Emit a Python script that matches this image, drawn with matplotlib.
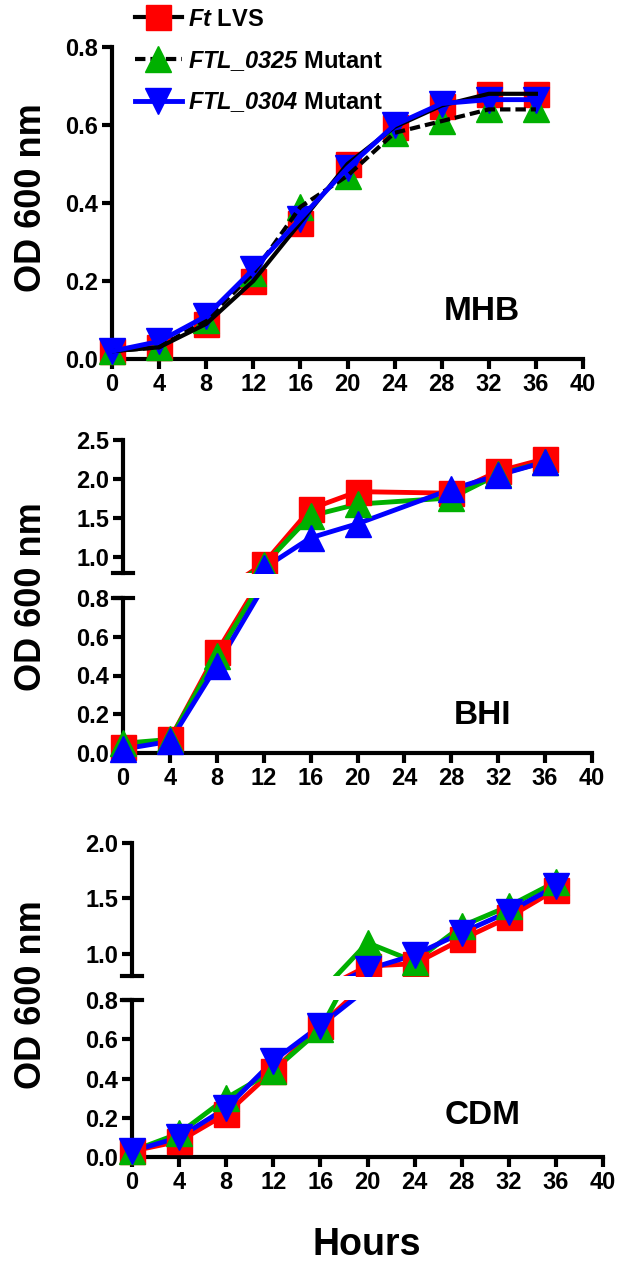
import matplotlib
matplotlib.use("Agg")
import matplotlib.pyplot as plt
from matplotlib.lines import Line2D

plt.rcParams['font.family'] = ['Liberation Sans', 'DejaVu Sans']
plt.rcParams['font.weight'] = 'bold'
plt.rcParams['mathtext.fontset'] = 'custom'
plt.rcParams['mathtext.it'] = 'Liberation Sans:italic:bold'
plt.rcParams['mathtext.rm'] = 'Liberation Sans:italic:bold'

# data
hours = [0, 4, 8, 12, 16, 20, 24, 28, 32, 36]
mhb_lvs = [0.02, 0.03, 0.09, 0.20, 0.35, 0.50, 0.595, 0.65, 0.68, 0.68]
mhb_0325 = [0.02, 0.03, 0.10, 0.22, 0.39, 0.47, 0.58, 0.61, 0.64, 0.64]
mhb_0304 = [0.02, 0.045, 0.11, 0.23, 0.36, 0.49, 0.60, 0.655, 0.665, 0.665]

bhi_hours = [0, 4, 8, 12, 16, 20, 28, 32, 36]
bhi_lvs = [0.03, 0.07, 0.52, 0.92, 1.62, 1.84, 1.82, 2.10, 2.26]
bhi_0325 = [0.05, 0.07, 0.50, 0.90, 1.53, 1.68, 1.76, 2.06, 2.22]
bhi_0304 = [0.02, 0.06, 0.45, 0.86, 1.25, 1.43, 1.87, 2.05, 2.22]

cdm_lvs = [0.03, 0.08, 0.22, 0.44, 0.67, 0.89, 0.91, 1.13, 1.33, 1.58]
cdm_0325 = [0.03, 0.12, 0.30, 0.44, 0.65, 1.10, 0.93, 1.25, 1.43, 1.65]
cdm_0304 = [0.03, 0.10, 0.25, 0.49, 0.67, 0.86, 0.99, 1.19, 1.38, 1.61]

xticks = list(range(0, 41, 4))

W, H = 619, 1269
fig = plt.figure(figsize=(W / 100, H / 100), dpi=100)
TICKFONT = dict(fontsize=17, fontweight='bold')


def box(x0, x1, ytop, ybot):
    return [x0 / W, 1 - ybot / H, (x1 - x0) / W, (ybot - ytop) / H]


def style(ax, bottom=True):
    for s in ['top', 'right']:
        ax.spines[s].set_visible(False)
    ax.spines['left'].set_linewidth(3)
    ax.spines['bottom'].set_linewidth(3)
    ax.tick_params(width=3, length=7, pad=3)
    if not bottom:
        ax.spines['bottom'].set_visible(False)
        ax.tick_params(axis='x', bottom=False, labelbottom=False)


def ticks(ax, yt, fmt='{:.1f}'):
    ax.set_xlim(0, 40)
    ax.set_xticks(xticks)
    ax.set_xticklabels([str(t) for t in xticks], **TICKFONT)
    ax.set_yticks(yt)
    ax.set_yticklabels([fmt.format(v) for v in yt], **TICKFONT)


series_style = [
    ('red', 's', 18),
    ('#00b000', '^', 19),
    ('blue', 'v', 19),
]

# --- MHB ---
ax1 = fig.add_axes(box(112, 583, 47, 359))
ax1.set_ylim(0, 0.8)
ticks(ax1, [0.0, 0.2, 0.4, 0.6, 0.8])
for (c, m, ms), ys in zip(series_style, [mhb_lvs, mhb_0325, mhb_0304]):
    ax1.plot(hours, ys, ls='none', marker=m, ms=ms, color=c, clip_on=False, zorder=3)
ax1.plot(hours, mhb_lvs, color='black', lw=3, zorder=4)
ax1.plot(hours, mhb_0325, color='black', lw=3, ls=(0, (2.5, 1.2)), zorder=4)
ax1.plot(hours, mhb_0304, color='blue', lw=3.5, zorder=5)
style(ax1)
fig.text(482 / W, 1 - 312 / H, 'MHB', fontsize=24, fontweight='bold', ha='center', va='center')

handles = [
    Line2D([], [], color='black', lw=3, marker='s', ms=18, mfc='red', mec='red'),
    Line2D([], [], color='black', lw=3, ls=(0, (2.5, 1.2)), marker='^', ms=19, mfc='#00b000', mec='#00b000'),
    Line2D([], [], color='blue', lw=3.5, marker='v', ms=19, mfc='blue', mec='blue'),
]
labels = [r'$Ft$ LVS', r'$FTL\_0325$ Mutant', r'$FTL\_0304$ Mutant']
fig.legend(handles, labels, loc='upper left', bbox_to_anchor=(130 / W, 1 - 3 / H),
           frameon=False, handlelength=2.0, handletextpad=0.25, labelspacing=0.76,
           borderpad=0.2, borderaxespad=0,
           prop={'weight': 'bold', 'size': 17, 'family': 'Liberation Sans'})


def broken(x0, x1, up_top, up_bot, lo_top, lo_bot, up_max, up_ticks, data, styles, xs, label_y, name):
    up = fig.add_axes(box(x0, x1, up_top, up_bot))
    lo = fig.add_axes(box(x0, x1, lo_top, lo_bot))
    up.set_ylim(0.8, up_max)
    lo.set_ylim(0, 0.8)
    ticks(up, up_ticks)
    ticks(lo, [0.0, 0.2, 0.4, 0.6, 0.8])
    for (c, m, ms), ys in zip(styles, data):
        for ax in (up, lo):
            ax.plot(xs, ys, color=c, lw=3.5, zorder=2)
        lo_pts = [(x, y) for x, y in zip(xs, ys) if y <= 0.8]
        up_pts = [(x, y) for x, y in zip(xs, ys) if y > 0.8]
        lo.plot([p[0] for p in lo_pts], [p[1] for p in lo_pts], ls='none', marker=m, ms=ms,
                color=c, clip_on=False, zorder=3)
        up.plot([p[0] for p in up_pts], [p[1] for p in up_pts], ls='none', marker=m, ms=ms,
                color=c, clip_on=True, zorder=3)
    style(up, bottom=False)
    style(lo)
    d = 10 / (x1 - x0)
    up.plot([-d, d], [0, 0], transform=up.transAxes, color='black', lw=3, clip_on=False)
    lo.plot([-d, d], [1, 1], transform=lo.transAxes, color='black', lw=3, clip_on=False)
    fig.text(483 / W, 1 - label_y / H, name, fontsize=24, fontweight='bold', ha='center', va='center')
    return up, lo


# --- BHI ---
bhi_styles = [('red', 's', 18), ('#00b000', '^', 19), ('blue', '^', 19)]
broken(123, 592, 440, 573, 598, 753, 2.5, [1.0, 1.5, 2.0, 2.5],
       [bhi_lvs, bhi_0325, bhi_0304], bhi_styles, bhi_hours, 715, 'BHI')

# --- CDM ---
broken(132, 603, 843, 976, 1000, 1157, 2.0, [1.0, 1.5, 2.0],
       [cdm_lvs, cdm_0325, cdm_0304], series_style, hours, 1115, 'CDM')

for yc in [198, 597, 995]:
    fig.text(32 / W, 1 - yc / H, 'OD 600 nm', rotation=90, fontsize=26, fontweight='bold',
             ha='center', va='center')
fig.text(367 / W, 1 - 1245 / H, 'Hours', fontsize=27, fontweight='bold', ha='center', va='center')

fig.savefig('out.png', dpi=100)
